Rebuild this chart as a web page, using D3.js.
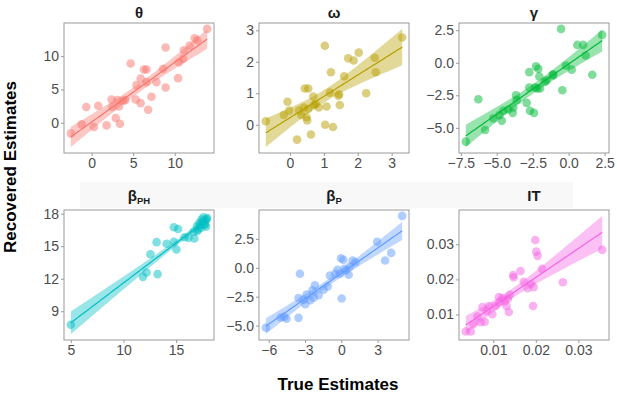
<!DOCTYPE html>
<html>
<head>
<meta charset="utf-8">
<script src="https://cdn.jsdelivr.net/npm/d3@7"></script>
<style>
  body { margin: 0; background: #fff; }
  svg { display: block; font-family: "Liberation Sans", Arial, sans-serif; }
</style>
</head>
<body>
<div id="chart"></div>
<script>
// theta
const thetaTrue = [-2.5, -1.2, -0.64, 0.28, 0.8, 1.8, 2.4, 2.5, 2.9, 3.1, 3.4, 3.3, 3.8, 4.05, 4.7, 5.3, 5.4, 5.9, 5.9, 6.3, 6.6, 6.6, 6.8, 7.2, 7.8, 8.6, 8.9, 8.9, 10.4, 10.5, 11.0, 11.1, 11.8, 12.4, 12.7, 13.9];
const thetaRec = [-1.6, -0.25, 2.36, -0.65, 2.56, -0.4, 3.5, 2.36, 0.7, 3.4, -0.15, 2.45, 3.3, 3.4, 8.9, 3.5, 5.65, 2.95, 6.65, 8.0, 8.0, 6.1, 1.96, 3.9, 6.1, 8.1, 11.3, 5.3, 6.7, 9.1, 9.6, 10.9, 11.6, 12.7, 12.4, 14.1];

// omega
const omegaTrue = [-0.71, -0.18, -0.07, -0.02, 0.21, 0.27, 0.34, 0.41, 0.44, 0.49, 0.51, 0.54, 0.54, 0.62, 0.69, 0.71, 0.76, 0.85, 1.03, 1.04, 1.08, 1.18, 1.21, 1.27, 1.43, 1.45, 1.47, 1.6, 1.72, 1.88, 2.03, 2.25, 2.5, 2.53, 3.31];
const omegaRec = [0.11, 0.31, 0.73, 0.45, -0.47, 0.45, 0.31, 0.55, 1.15, 0.24, 0.14, 1.15, 0.5, -0.31, 0.9, 0.63, 0.66, 0.55, 2.51, 0.0, 0.58, 1.02, 1.67, -0.07, 0.92, 0.97, 0.63, 1.54, 2.11, 2.04, 2.29, 1.0, 2.13, 1.67, 2.77];

// gamma
const gammaTrue = [-7.15, -6.28, -5.81, -5.24, -4.82, -4.65, -4.54, -4.19, -3.89, -3.85, -3.66, -3.61, -2.92, -2.74, -2.74, -2.69, -2.41, -2.34, -2.27, -2.11, -2.18, -2.04, -1.99, -1.65, -1.53, -1.11, -1.07, -0.53, -0.44, -0.19, 0.21, 0.6, 1.01, 1.18, 1.64, 2.33];
const gammaRec = [-6.06, -2.8, -5.17, -4.27, -4.02, -4.46, -3.69, -3.59, -3.85, -3.44, -2.5, -2.88, -3.08, -0.72, -1.91, -3.69, -3.85, -1.91, -0.28, -0.46, -1.98, -1.05, -1.98, -1.48, -1.35, -0.97, -0.89, 2.6, -2.11, -0.21, -0.53, 1.37, 1.37, 0.56, -0.92, 2.14];

// beta PH
const bphTrue = [5.0, 11.85, 12.19, 12.56, 13.15, 13.24, 14.1, 14.79, 14.79, 15.03, 15.19, 15.8, 16.18, 16.73, 16.67, 16.97, 17.19, 17.4, 17.6, 17.66, 17.35, 17.0, 17.8, 17.9, 17.5, 17.75, 17.3, 17.85, 17.1, 17.95];
const bphRec = [7.75, 12.17, 12.57, 14.25, 15.37, 12.42, 15.22, 16.75, 15.4, 14.7, 16.59, 15.83, 15.77, 15.71, 16.32, 16.84, 17.14, 17.45, 17.66, 16.99, 16.68, 16.4, 17.36, 17.5, 17.25, 17.0, 16.95, 16.8, 16.55, 17.6];

// beta P
const bpTrue = [-6.24, -5.0, -4.72, -4.53, -3.54, -3.54, -3.42, -3.12, -2.98, -2.87, -2.57, -2.38, -2.29, -2.18, -1.88, -1.47, -1.13, -0.94, -0.5, -0.31, -0.11, -0.03, 0.03, 0.17, 0.25, 0.39, 0.61, 0.72, 0.94, 1.16, 2.96, 3.62, 4.12, 5.03];
const bpRec = [-5.19, -4.3, -4.24, -4.41, -4.33, -2.61, -0.52, -2.75, -3.15, -2.32, -2.81, -1.95, -2.58, -1.52, -2.38, -1.89, -1.61, -0.66, -0.52, -0.17, -0.52, 0.82, -2.66, 0.69, -0.09, -0.23, -0.6, 0.11, 0.63, 0.48, 2.26, 0.63, 1.29, 4.49];

// IT
const itTrue = [0.00353, 0.0047, 0.00533, 0.00626, 0.00703, 0.00743, 0.00797, 0.00843, 0.00897, 0.00977, 0.01054, 0.01131, 0.01147, 0.0121, 0.01264, 0.0131, 0.01341, 0.01365, 0.01388, 0.01467, 0.01481, 0.01638, 0.01715, 0.01809, 0.01888, 0.01935, 0.01949, 0.01988, 0.02012, 0.02042, 0.02145, 0.02636, 0.03561];
const itRec = [0.00517, 0.00517, 0.0073, 0.00944, 0.0078, 0.0121, 0.00794, 0.011, 0.0124, 0.0101, 0.0124, 0.015, 0.0135, 0.0147, 0.0138, 0.0124, 0.0144, 0.0107, 0.0156, 0.0212, 0.0206, 0.0224, 0.0193, 0.0175, 0.0187, 0.0124, 0.0178, 0.0312, 0.0279, 0.0267, 0.023, 0.0192, 0.0284];

const panelTitles = ["θ", "ω", "γ", "β|PH", "β|P", "IT"];
const colors = ["#F8766D", "#B79F00", "#00BA38", "#00BFC4", "#619CFF", "#F564E3"];
const xTicks = [[0, 5, 10], [0, 1, 2, 3], [-7.5, -5, -2.5, 0, 2.5], [5, 10, 15], [-6, -3, 0, 3], [0.01, 0.02, 0.03]];
const yTicks = [[0, 5, 10], [0, 1, 2, 3], [-5, -2.5, 0, 2.5], [9, 12, 15, 18], [-5, -2.5, 0, 2.5], [0.01, 0.02, 0.03]];
const tickFormats = ["d", "d", ".1f", "d", ".1f", ".2f"];
const xFormats = ["d", "d", ".1f", "d", "d", ".2f"];

const panels = [
  [thetaTrue, thetaRec], [omegaTrue, omegaRec], [gammaTrue, gammaRec],
  [bphTrue, bphRec], [bpTrue, bpRec], [itTrue, itRec]
];

const W = 617, H = 394;
const colX = [64, 259, 459], rowY = [23, 210];
const pw = 150, ph = 130;

const svg = d3.select("#chart").append("svg")
  .attr("width", W).attr("height", H);

// faint strip background behind bottom row titles
svg.append("rect")
  .attr("x", 80).attr("y", 182).attr("width", 493).attr("height", 26)
  .attr("fill", "#f8f8f8");

// t quantile approx (95%)
function tq(df) {
  const z = 1.959964;
  return z + (z ** 3 + z) / (4 * df) + (5 * z ** 5 + 16 * z ** 3 + 3 * z) / (96 * df * df);
}

function lmFit(xs, ys) {
  const n = xs.length;
  const mx = d3.mean(xs), my = d3.mean(ys);
  let sxx = 0, sxy = 0;
  xs.forEach((x, i) => { sxx += (x - mx) ** 2; sxy += (x - mx) * (ys[i] - my); });
  const b = sxy / sxx, a = my - b * mx;
  let sse = 0;
  xs.forEach((x, i) => { sse += (ys[i] - a - b * x) ** 2; });
  const s = Math.sqrt(sse / (n - 2));
  const t = tq(n - 2);
  const [x0, x1] = d3.extent(xs);
  return d3.range(81).map(k => {
    const x = x0 + (x1 - x0) * k / 80;
    const fit = a + b * x;
    const se = s * Math.sqrt(1 / n + (x - mx) ** 2 / sxx);
    return { x, fit, lo: fit - t * se, hi: fit + t * se };
  });
}

function expand([a, b]) {
  const d = (b - a) * 0.05;
  return [a - d, b + d];
}

panels.forEach(([xs, ys], i) => {
  const col = i % 3, row = Math.floor(i / 3);
  const left = colX[col], top = rowY[row];
  const band = lmFit(xs, ys);
  const color = colors[i];

  const xScale = d3.scaleLinear().domain(expand(d3.extent(xs))).range([left, left + pw]);
  const yExt = d3.extent([...ys, ...band.map(d => d.lo), ...band.map(d => d.hi)]);
  const yScale = d3.scaleLinear().domain(expand(yExt)).range([top + ph, top]);

  const g = svg.append("g");

  // points
  g.selectAll("circle")
    .data(xs.map((x, k) => [x, ys[k]]))
    .join("circle")
    .attr("cx", d => xScale(d[0]))
    .attr("cy", d => yScale(d[1]))
    .attr("r", 4.3)
    .attr("fill", color)
    .attr("fill-opacity", 0.5);

  // ribbon
  g.append("path")
    .datum(band)
    .attr("d", d3.area().x(d => xScale(d.x)).y0(d => yScale(d.lo)).y1(d => yScale(d.hi)))
    .attr("fill", color)
    .attr("fill-opacity", 0.4);

  // fit line
  g.append("path")
    .datum(band)
    .attr("d", d3.line().x(d => xScale(d.x)).y(d => yScale(d.fit)))
    .attr("fill", "none")
    .attr("stroke", color)
    .attr("stroke-width", 1.2);

  // frame
  g.append("rect")
    .attr("x", left).attr("y", top).attr("width", pw).attr("height", ph)
    .attr("fill", "none").attr("stroke", "#9a9a9a").attr("stroke-width", 1);

  // axes
  const xAxis = g.append("g")
    .attr("transform", `translate(0,${top + ph})`)
    .call(d3.axisBottom(xScale).tickValues(xTicks[i]).tickFormat(d3.format(xFormats[i])).tickSize(3).tickPadding(2));
  const yAxis = g.append("g")
    .attr("transform", `translate(${left},0)`)
    .call(d3.axisLeft(yScale).tickValues(yTicks[i]).tickFormat(d3.format(tickFormats[i])).tickSize(3).tickPadding(2));
  [xAxis, yAxis].forEach(ax => {
    ax.select(".domain").remove();
    ax.selectAll(".tick line").attr("stroke", "#9a9a9a");
    ax.selectAll(".tick text")
      .attr("fill", "#4d4d4d")
      .style("font-size", "14px")
      .style("font-family", "'Liberation Sans', Arial, sans-serif");
  });

  // title
  const [main, sub] = panelTitles[i].split("|");
  const title = svg.append("text")
    .attr("x", left + pw / 2)
    .attr("y", row === 0 ? 18 : 201)
    .attr("text-anchor", "middle")
    .attr("font-weight", "bold")
    .attr("font-size", 15)
    .attr("fill", "#1a1a1a")
    .text(main);
  if (sub) {
    title.append("tspan")
      .attr("font-size", 9.5)
      .attr("dy", 3)
      .text(sub);
  }
});

svg.append("text")
  .attr("transform", `translate(16,167) rotate(-90)`)
  .attr("text-anchor", "middle")
  .attr("font-weight", "bold")
  .attr("font-size", 17)
  .text("Recovered Estimates");

svg.append("text")
  .attr("x", 338).attr("y", 390)
  .attr("text-anchor", "middle")
  .attr("font-weight", "bold")
  .attr("font-size", 17)
  .text("True Estimates");
</script>
</body>
</html>
